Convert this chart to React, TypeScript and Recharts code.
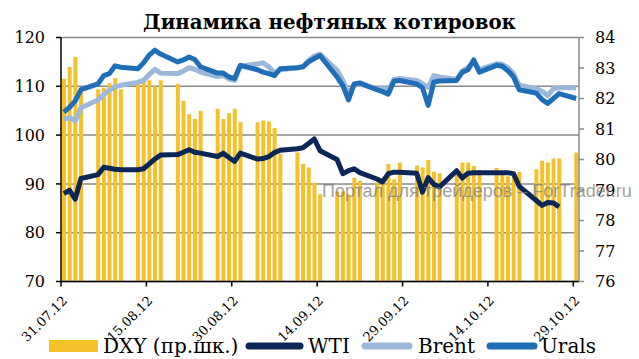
import React from 'react';
import { ComposedChart, Bar, Line, XAxis, YAxis, CartesianGrid } from 'recharts';

const dates = [
  '31.07.12', '01.08.12', '02.08.12', '03.08.12', '04.08.12', '05.08.12', '06.08.12', '07.08.12', '08.08.12', '09.08.12',
  '10.08.12', '11.08.12', '12.08.12', '13.08.12', '14.08.12', '15.08.12', '16.08.12', '17.08.12', '18.08.12', '19.08.12',
  '20.08.12', '21.08.12', '22.08.12', '23.08.12', '24.08.12', '25.08.12', '26.08.12', '27.08.12', '28.08.12', '29.08.12',
  '30.08.12', '31.08.12', '01.09.12', '02.09.12', '03.09.12', '04.09.12', '05.09.12', '06.09.12', '07.09.12', '08.09.12',
  '09.09.12', '10.09.12', '11.09.12', '12.09.12', '13.09.12', '14.09.12', '15.09.12', '16.09.12', '17.09.12', '18.09.12',
  '19.09.12', '20.09.12', '21.09.12', '22.09.12', '23.09.12', '24.09.12', '25.09.12', '26.09.12', '27.09.12', '28.09.12',
  '29.09.12', '30.09.12', '01.10.12', '02.10.12', '03.10.12', '04.10.12', '05.10.12', '06.10.12', '07.10.12', '08.10.12',
  '09.10.12', '10.10.12', '11.10.12', '12.10.12', '13.10.12', '14.10.12', '15.10.12', '16.10.12', '17.10.12', '18.10.12',
  '19.10.12', '20.10.12', '21.10.12', '22.10.12', '23.10.12', '24.10.12', '25.10.12', '26.10.12', '27.10.12', '28.10.12',
  '29.10.12',
];

const dxy = [
  82.65, 83.03, 83.36, 82.3, null, null,
  82.3, 82.35, 82.5, 82.67, 82.3, null, null,
  82.55, 82.6, 82.6, 82.4, 82.6, null, null,
  82.48, 81.93, 81.48, 81.33, 81.6, null, null,
  81.66, 81.33, 81.52, 81.66, 81.22, null, null,
  81.22, 81.28, 81.25, 81.03, 80.19, null, null,
  80.23, 79.85, 79.74, 79.24, 78.86, null, null,
  78.95, 78.95, 78.85, 79.4, 79.3, null, null,
  79.25, 79.25, 79.85, 79.35, 79.9, null, null,
  79.8, 79.74, 79.98, 79.6, 79.55, null, null,
  79.5, 79.9, 79.9, 79.79, 79.65, null, null,
  79.72, 79.6, 79.45, 79.45, 79.6, null, null,
  79.68, 79.96, 79.9, 80.03, 80.03, null, null,
  80.23,
];

const wti = [
  88.0, 88.7, 86.9, 91.1, null, null,
  91.9, 93.4, 93.2, 93.0, 92.9, null, null,
  92.9, 93.1, 94.1, 95.1, 95.9, null, null,
  96.0, 96.5, 97.0, 96.5, 96.3, null, null,
  95.6, 96.3, 95.4, 94.6, 96.3, null, null,
  95.1, 95.2, 95.6, 96.4, 96.9, null, null,
  97.2, 97.4, 98.3, 99.2, 96.8, null, null,
  95.0, 92.1, 92.7, 93.1, 92.3, null, null,
  91.0, 90.4, 92.1, 92.4, 92.4, null, null,
  92.2, 88.3, 91.3, 89.9, 89.4, null, null,
  92.7, 91.2, 92.2, 92.3, 92.3, null, null,
  92.3, 92.3, 92.3, 92.1, 89.5, null, null,
  86.6, 85.6, 86.2, 86.1, 85.3, null, null,
  null,
];

const brent = [
  103.2, 103.6, 102.9, 105.6, null, null,
  107.2, 108.3, 109.2, 109.9, 110.2, null, null,
  110.8, 111.2, 112.4, 113.5, 112.7, null, null,
  112.6, 113.1, 113.8, 113.5, 112.9, null, null,
  112.0, 112.2, 111.5, 111.2, 114.1, null, null,
  114.6, 114.8, 114.0, 112.7, 113.4, null, null,
  113.8, 114.0, 115.3, 116.2, 116.6, null, null,
  113.3, 111.2, 108.4, 110.2, 110.5, null, null,
  109.3, 109.7, 109.2, 111.4, 111.6, null, null,
  111.2, 110.5, 109.8, 112.2, 111.9, null, null,
  111.4, 113.1, 113.9, 115.0, 113.4, null, null,
  114.6, 114.5, 113.8, 112.6, 110.2, null, null,
  109.5, 109.0, 108.1, 109.5, 109.7, null, null,
  109.7,
];

const urals = [
  104.7, 105.7, 107.0, 109.3, null, null,
  110.5, 112.2, 112.6, 114.2, 113.9, null, null,
  113.6, 114.8, 116.4, 117.4, 116.6, null, null,
  115.0, 115.4, 116.0, 115.5, 114.0, null, null,
  112.7, 112.7, 111.9, 111.6, 114.3, null, null,
  113.4, 112.9, 112.6, 112.2, 113.6, null, null,
  113.8, 114.0, 115.0, 115.7, 116.3, null, null,
  111.9, 110.2, 107.2, 110.5, 110.7, null, null,
  109.3, 108.9, 108.4, 111.1, 111.2, null, null,
  110.5, 109.7, 106.1, 110.9, 111.1, null, null,
  111.2, 112.9, 113.4, 115.4, 112.9, null, null,
  114.3, 114.1, 113.2, 111.9, 109.3, null, null,
  108.6, 107.3, 106.5, 107.5, 108.5, null, null,
  107.5,
];

const leftTicks = [70, 80, 90, 100, 110, 120];
const rightTicks = [76, 77, 78, 79, 80, 81, 82, 83, 84];

const TITLE = 'Динамика нефтяных котировок';
const WATERMARK = 'Портал для трейдеров – ForTrader.ru';
const NAMES = { dxy: 'DXY (пр.шк.)', wti: 'WTI', brent: 'Brent', urals: 'Urals' };

const COLORS = {
  dxy: '#F5C12A',
  wti: '#0C2658',
  brent: '#9BB7DA',
  urals: '#1E6FB7',
};

const data = dates.map((date, i) => ({
  date,
  dxy: dxy[i],
  wti: wti[i],
  brent: brent[i],
  urals: urals[i],
}));

const W = 639;
const H = 359;
const PLOT_LEFT = 61;
const PLOT_RIGHT = 579;
const BAND = (PLOT_RIGHT - PLOT_LEFT) / dates.length;
const SERIF = '"DejaVu Serif", serif';

const XTick = (props: any) => {
  const { x, y, payload } = props;
  const tx = x - BAND / 2;
  const ax = tx + 7;
  const ay = y + 20;
  return (
    <g>
      <line x1={tx} y1={y} x2={tx} y2={y + 5} stroke="#000" strokeWidth={1.5} />
      <text
        x={ax}
        y={ay}
        transform={`rotate(-45 ${ax} ${ay})`}
        textAnchor="end"
        fontSize={13}
        fontFamily={SERIF}
        fill="#000"
      >
        {payload.value}
      </text>
    </g>
  );
};

export default function App() {
  return (
    <div style={{ position: 'absolute', left: 0, top: 0, width: W, height: H, background: '#fff' }}>
      <ComposedChart
        width={W}
        height={H}
        data={data}
        margin={{ top: 37.5, right: 0, bottom: 0, left: 0 }}
        barGap={0}
      >
        <CartesianGrid yAxisId="left" vertical={false} stroke="#8a8a8a" strokeWidth={1.5} />
        <XAxis
          dataKey="date"
          interval={14}
          tickSize={0}
          tickMargin={0}
          tickLine={false}
          axisLine={{ stroke: '#000', strokeWidth: 1.5 }}
          height={77.5}
          tick={<XTick />}
        />
        <YAxis
          yAxisId="left"
          orientation="left"
          width={61}
          domain={[70, 120]}
          ticks={leftTicks}
          allowDataOverflow
          axisLine={{ stroke: '#000', strokeWidth: 1.5 }}
          tickLine={{ stroke: '#000', strokeWidth: 1.5 }}
          tickSize={5}
          tickMargin={11}
          tick={{ fill: '#000', fontSize: 16, fontFamily: SERIF }}
        />
        <YAxis
          yAxisId="right"
          orientation="right"
          width={60}
          domain={[76, 84]}
          ticks={rightTicks}
          allowDataOverflow
          axisLine={{ stroke: '#8a8a8a', strokeWidth: 1.5 }}
          tickLine={{ stroke: '#8a8a8a', strokeWidth: 1.5 }}
          tickSize={5}
          tickMargin={11}
          tick={{ fill: '#000', fontSize: 16, fontFamily: SERIF, textAnchor: 'start' }}
        />
        <Bar yAxisId="right" dataKey="dxy" name={NAMES.dxy} fill={COLORS.dxy} barSize={4} isAnimationActive={false} />
        <Line yAxisId="left" type="linear" dataKey="wti" name={NAMES.wti} stroke={COLORS.wti} strokeWidth={5}
          dot={false} activeDot={false} connectNulls isAnimationActive={false} strokeLinejoin="round" />
        <Line yAxisId="left" type="linear" dataKey="brent" name={NAMES.brent} stroke={COLORS.brent} strokeWidth={5}
          dot={false} activeDot={false} connectNulls isAnimationActive={false} strokeLinejoin="round" />
        <Line yAxisId="left" type="linear" dataKey="urals" name={NAMES.urals} stroke={COLORS.urals} strokeWidth={5}
          dot={false} activeDot={false} connectNulls isAnimationActive={false} strokeLinejoin="round" />
      </ComposedChart>
      <svg width={W} height={H} style={{ position: 'absolute', left: 0, top: 0, pointerEvents: 'none' }}>
        <text x={329.5} y={29} textAnchor="middle" fontSize={19.8} fontWeight="bold" fontFamily={SERIF} fill="#000">
          {TITLE}
        </text>
        <text x={322} y={197} fontSize={18} fontFamily='"Liberation Sans", Arial, sans-serif' fill="#7a7a7a" opacity={0.7}>
          {WATERMARK}
        </text>
        <g fontFamily={SERIF} fontSize={20} fill="#000">
          <rect x={49} y={340} width={49} height={12} fill={COLORS.dxy} />
          <text x={103} y={353}>{NAMES.dxy}</text>
          <line x1={249} y1={346} x2={300} y2={346} stroke={COLORS.wti} strokeWidth={7} strokeLinecap="round" />
          <text x={308} y={353}>{NAMES.wti}</text>
          <line x1={365} y1={346} x2={409} y2={346} stroke={COLORS.brent} strokeWidth={7} strokeLinecap="round" />
          <text x={418} y={353}>{NAMES.brent}</text>
          <line x1={490} y1={346} x2={534} y2={346} stroke={COLORS.urals} strokeWidth={7} strokeLinecap="round" />
          <text x={541} y={353}>{NAMES.urals}</text>
        </g>
      </svg>
    </div>
  );
}
